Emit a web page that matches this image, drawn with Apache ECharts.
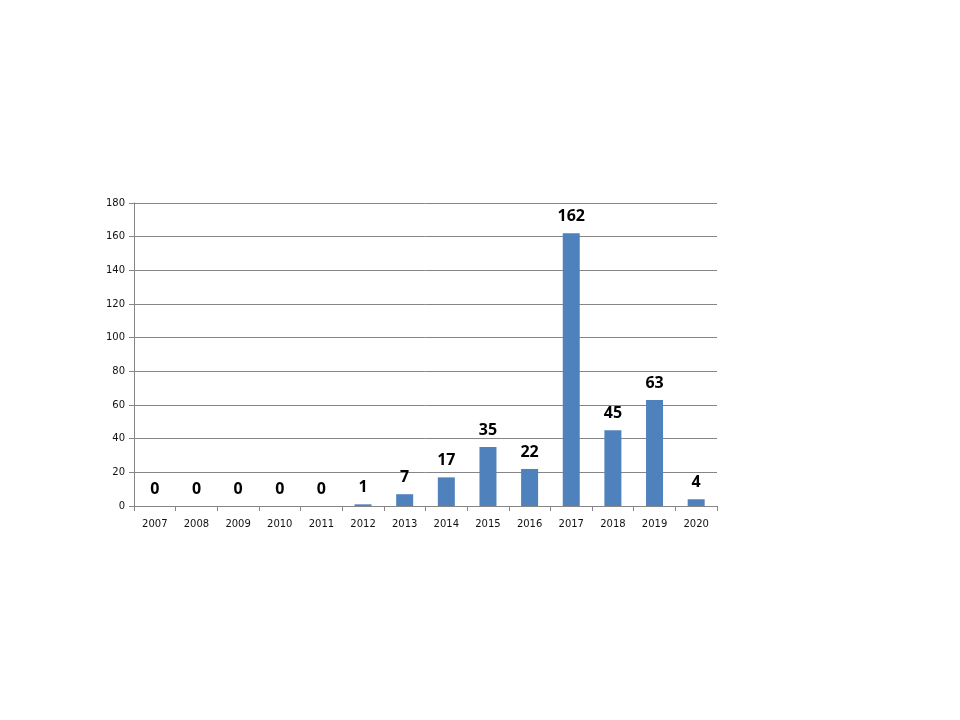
<!DOCTYPE html>
<html><head><meta charset="utf-8">
<script src="https://cdn.jsdelivr.net/npm/echarts@6/dist/echarts.min.js"></script>
<style>html,body{margin:0;padding:0;background:#fff}#c{width:960px;height:720px}</style>
</head><body><div id="c"></div>
<script>
const categories = ['2007','2008','2009','2010','2011','2012','2013','2014','2015','2016','2017','2018','2019','2020'];
const values = [0,0,0,0,0,1,7,17,35,22,162,45,63,4];
const yTicks = [0,20,40,60,80,100,120,140,160,180];

const chart = echarts.init(document.getElementById('c'), null, {renderer:'canvas'});
chart.setOption({
  animation:false,
  backgroundColor:'#ffffff',
  grid:{left:134,right:243,top:203,bottom:214,containLabel:false},
  xAxis:{
    type:'category',data:categories,
    axisLine:{lineStyle:{color:'#868686',width:1}},
    axisTick:{show:true,length:5,lineStyle:{color:'#868686'}},
    axisLabel:{color:'#111',fontFamily:'DejaVu Sans',fontSize:10,margin:13}
  },
  yAxis:{
    type:'value',min:yTicks[0],max:yTicks[yTicks.length-1],interval:20,
    axisLine:{show:true,lineStyle:{color:'#868686',width:1}},
    axisTick:{show:true,length:5,lineStyle:{color:'#868686'}},
    splitLine:{lineStyle:{color:'#868686',width:1}},
    axisLabel:{color:'#111',fontFamily:'DejaVu Sans',fontSize:10,margin:9}
  },
  series:[{
    type:'bar',data:values,barWidth:17,
    itemStyle:{color:'#4F81BD'},
    label:{show:true,position:'top',distance:9,color:'#000',fontWeight:'bold',fontSize:16,fontFamily:'Open Sans'}
  }]
});
</script></body></html>
